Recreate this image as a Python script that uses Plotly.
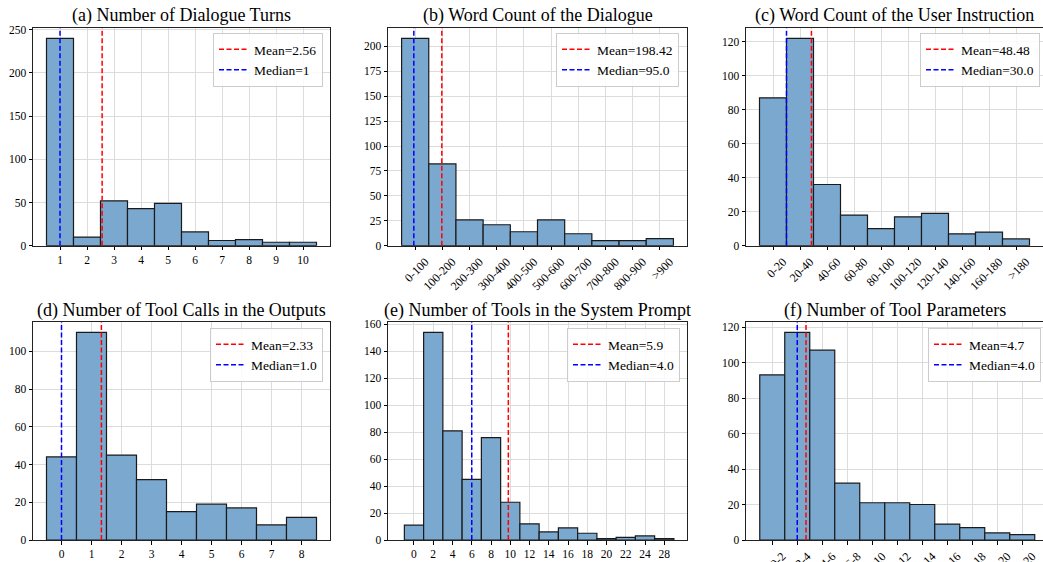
import plotly.graph_objects as go

W, H = 1043, 562
FONT = "Liberation Serif"

# ---------------- data ----------------
# (a) Number of Dialogue Turns
a_labels = ["1", "2", "3", "4", "5", "6", "7", "8", "9", "10"]
a_counts = [240, 10, 52, 43, 49, 16, 6, 7, 4, 4]
a_mean, a_median = 2.56, 1
a_mean_pos, a_median_pos = 2.56, 1.0

# (b) Word Count of the Dialogue
b_labels = ["0-100", "100-200", "200-300", "300-400", "400-500",
            "500-600", "600-700", "700-800", "800-900", ">900"]
b_counts = [208, 82, 26, 21, 14, 26, 12, 5, 5, 7]
b_mean, b_median = "198.42", "95.0"
b_mean_pos, b_median_pos = 0.98, -0.05

# (c) Word Count of the User Instruction
c_labels = ["0-20", "20-40", "40-60", "60-80", "80-100",
            "100-120", "120-140", "140-160", "160-180", ">180"]
c_counts = [87, 122, 36, 18, 10, 17, 19, 7, 8, 4]
c_mean, c_median = "48.48", "30.0"
c_mean_pos, c_median_pos = 1.424, 0.5

# (d) Number of Tool Calls in the Outputs
d_labels = ["0", "1", "2", "3", "4", "5", "6", "7", "8"]
d_counts = [44, 110, 45, 32, 15, 19, 17, 8, 12]
d_mean, d_median = "2.33", "1.0"
d_mean_pos, d_median_pos = 1.33, 0.0

# (e) Number of Tools in the System Prompt
e_labels = ["0", "2", "4", "6", "8", "10", "12", "14", "16", "18",
            "20", "22", "24", "28"]
e_counts = [11, 154, 81, 45, 76, 28, 12, 6, 9, 5, 1, 2, 3, 1]
e_mean, e_median = "5.9", "4.0"
e_mean_pos, e_median_pos = 4.9, 3.0

# (f) Number of Tool Parameters
f_labels = ["0-2", "2-4", "4-6", "6-8", "8-10", "10-12", "12-14",
            "14-16", "16-18", "18-20", ">20"]
f_counts = [93, 117, 107, 32, 21, 21, 20, 9, 7, 4, 3]
f_mean, f_median = "4.7", "4.0"
f_mean_pos, f_median_pos = 1.35, 1.0

titles = ["(a) Number of Dialogue Turns", "(b) Word Count of the Dialogue",
          "(c) Word Count of the User Instruction",
          "(d) Number of Tool Calls in the Outputs",
          "(e) Number of Tools in the System Prompt",
          "(f) Number of Tool Parameters"]

# ---------------- layout geometry (pixels) ----------------
cols = [(33, 330), (388, 687), (746, 1043)]
rows = [(28, 245.7), (322, 540)]
legend_box = [(323, 33), (679, 33), (1040, 33), (323, 328), (680, 328), (1041, 328)]

panels = [
    dict(labels=a_labels, counts=a_counts, pos=[1, 2, 3, 4, 5, 6, 7, 8, 9, 10],
         mean=a_mean, median=a_median, mpos=a_mean_pos, mdpos=a_median_pos,
         xr=[0, 11], ytick=50, rot=False, ymirror=True),
    dict(labels=b_labels, counts=b_counts, pos=list(range(len(b_labels))),
         mean=b_mean, median=b_median, mpos=b_mean_pos, mdpos=b_median_pos,
         xr=[-1, 10], ytick=25, rot=True, ymirror=True),
    dict(labels=c_labels, counts=c_counts, pos=list(range(len(c_labels))),
         mean=c_mean, median=c_median, mpos=c_mean_pos, mdpos=c_median_pos,
         xr=[-1, 10], ytick=20, rot=True, ymirror=False),
    dict(labels=d_labels, counts=d_counts, pos=list(range(len(d_labels))),
         mean=d_mean, median=d_median, mpos=d_mean_pos, mdpos=d_median_pos,
         xr=[-0.95, 8.95], ytick=20, rot=False, ymirror=True),
    dict(labels=e_labels, counts=e_counts, pos=list(range(len(e_labels))),
         mean=e_mean, median=e_median, mpos=e_mean_pos, mdpos=e_median_pos,
         xr=[-1.35, 14.18], ytick=20, rot=False, ymirror=True),
    dict(labels=f_labels, counts=f_counts, pos=list(range(len(f_labels))),
         mean=f_mean, median=f_median, mpos=f_mean_pos, mdpos=f_median_pos,
         xr=[-1.05, 10.83], ytick=20, rot=True, ymirror=False),
]

BAR_COLOR = "#7ba8cf"
fig = go.Figure()
layout = dict(width=W, height=H, margin=dict(l=0, r=0, t=0, b=0),
              paper_bgcolor="white", plot_bgcolor="white",
              font=dict(family=FONT, color="black"), annotations=[])

for i, p in enumerate(panels):
    r, c = divmod(i, 3)
    xn = "" if i == 0 else str(i + 1)
    xa, ya = "x" + xn, "y" + xn
    lg = "legend" + xn
    ytop = max(p["counts"]) * 1.05

    fig.add_trace(go.Bar(x=p["pos"], y=p["counts"], width=1, xaxis=xa, yaxis=ya,
                         marker=dict(color=BAR_COLOR, line=dict(color="#1a1a1a", width=1.2)),
                         showlegend=False))
    fig.add_trace(go.Scatter(x=[p["mpos"], p["mpos"]], y=[0, ytop], mode="lines",
                             xaxis=xa, yaxis=ya, legend=lg, name=f"Mean={p['mean']}",
                             line=dict(color="red", width=1.5, dash="5px,2.5px")))
    fig.add_trace(go.Scatter(x=[p["mdpos"], p["mdpos"]], y=[0, ytop], mode="lines",
                             xaxis=xa, yaxis=ya, legend=lg, name=f"Median={p['median']}",
                             line=dict(color="blue", width=1.5, dash="5px,2.5px")))

    x0, x1 = cols[c]
    t0, b0 = rows[r]
    xdom = [x0 / W, min(x1 / W, 1.0)]
    ydom = [1 - b0 / H, 1 - t0 / H]

    layout["xaxis" + xn] = dict(
        domain=xdom, anchor=ya, range=p["xr"], tickmode="array",
        tickvals=p["pos"], ticktext=p["labels"],
        tickangle=-45 if p["rot"] else 0,
        ticklabelshift=10 if p["rot"] else 0,
        ticks="outside", ticklen=3.5, tickcolor="black", tickwidth=1,
        tickfont=dict(family=FONT, size=12 if p["rot"] else 11.5, color="black"),
        showgrid=True, gridcolor="#dcdcdc", gridwidth=1,
        showline=True, linecolor="#222222", linewidth=1, mirror=True,
        zeroline=False, automargin=False, fixedrange=True)
    layout["yaxis" + xn] = dict(
        domain=ydom, anchor=xa, range=[0, ytop], dtick=p["ytick"], tick0=0,
        ticks="outside", ticklen=3.5, tickcolor="black", tickwidth=1,
        tickfont=dict(family=FONT, size=11.5, color="black"),
        showgrid=True, gridcolor="#dcdcdc", gridwidth=1,
        showline=True, linecolor="#222222", linewidth=1,
        mirror=p["ymirror"], zeroline=False, automargin=False, fixedrange=True)

    lx, ly = legend_box[i]
    layout[lg] = dict(x=lx / W, xanchor="right", y=1 - ly / H, yanchor="top",
                      bgcolor="rgba(255,255,255,0.85)", bordercolor="#cccccc",
                      borderwidth=1, font=dict(family=FONT, size=13.5, color="black"),
                      itemwidth=30, tracegroupgap=0)

    layout["annotations"].append(dict(
        text=titles[i], x=(x0 + min(x1, W)) / 2 / W, xref="paper", xanchor="center",
        y=1 - (t0 + 0.5) / H, yref="paper", yanchor="bottom", showarrow=False,
        font=dict(family=FONT, size=18, color="black")))

fig.update_layout(**layout)
fig.write_html("out.html", config={"displayModeBar": False},
               post_script="document.body.style.margin='0';document.body.style.overflow='hidden';")
